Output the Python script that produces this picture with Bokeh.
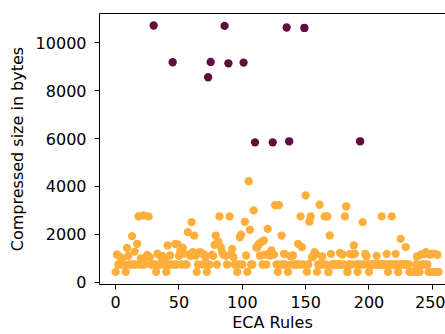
from bokeh.plotting import figure
from bokeh.models import ColumnDataSource, Range1d, LinearAxis, FixedTicker
from bokeh.embed import file_html
from bokeh.resources import INLINE

# ECA rule numbers 0..255
rules = list(range(256))

# Compressed size in bytes for each rule
sizes = [
    430, 1160, 740, 1080, 740, 1000, 740, 740, 430, 1430, 1100, 740, 740, 1925, 740, 1280,
    740, 1600, 2750, 740, 1000, 740, 2790, 740, 1050, 1144, 2750, 1050, 740, 740, 10728, 740,
    430, 1190, 740, 740, 1050, 1100, 740, 1000, 430, 1535, 740, 1120, 740, 9192, 740, 1600,
    740, 1576, 1100, 1300, 740, 1437, 1200, 740, 740, 2090, 1150, 1100, 2510, 1255, 1950, 1100,
    430, 740, 1250, 1250, 1200, 740, 1150, 1050, 430, 8565, 740, 9205, 1150, 1100, 1560, 1950,
    740, 1700, 2750, 1460, 1256, 1150, 10711, 1100, 740, 9150, 2750, 1186, 1395, 1046, 740, 740,
    430, 740, 1880, 1990, 740, 9178, 2525, 1116, 430, 4220, 2190, 740, 740, 3000, 5845, 1450,
    1465, 1600, 1116, 1674, 740, 1745, 1150, 740, 2230, 1200, 1116, 1325, 5845, 1150, 3222, 740,
    430, 3222, 740, 1950, 740, 1186, 740, 10644, 430, 5887, 1100, 740, 1116, 740, 740, 740,
    1605, 740, 2750, 1465, 740, 10628, 3627, 430, 740, 2537, 2750, 1045, 1074, 1255, 1186, 430,
    740, 3237, 740, 1074, 740, 2750, 740, 2750, 430, 1953, 1186, 740, 740, 740, 740, 740,
    740, 1228, 740, 1158, 740, 2750, 3167, 430, 740, 1186, 740, 1160, 1535, 1186, 740, 430,
    740, 5887, 740, 2510, 740, 1186, 1088, 740, 430, 740, 740, 740, 740, 740, 1102, 740,
    740, 740, 2750, 740, 740, 740, 1186, 430, 740, 740, 2750, 740, 740, 1186, 740, 430,
    740, 1813, 740, 740, 740, 1465, 740, 740, 430, 430, 430, 430, 430, 740, 1074, 430,
    430, 1158, 740, 740, 1186, 1255, 740, 430, 1158, 430, 1186, 430, 1186, 430, 1144, 430,
]

# Rules drawn in the dark colour
dark_rules = [30, 45, 73, 75, 86, 89, 101, 110, 124, 135, 137, 149, 193]

x_ticks = [0, 50, 100, 150, 200, 250]
y_ticks = [0, 2000, 4000, 6000, 8000, 10000]

DARK = "#620e3d"
LIGHT = "#fdae3b"
colors = [DARK if r in dark_rules else LIGHT for r in rules]

src = ColumnDataSource(dict(x=rules, y=sizes, c=colors))

p = figure(width=445, height=334, output_backend="svg", toolbar_location=None,
           x_range=Range1d(-12.75, 260.4), y_range=Range1d(-96, 11230),
           min_border_left=99, min_border_right=0, min_border_top=13, min_border_bottom=50)
p.background_fill_color = "white"
p.border_fill_color = "white"
p.outline_line_color = None
p.xgrid.visible = False
p.ygrid.visible = False

p.scatter("x", "y", source=src, size=8.3, fill_color="c", line_color="c", line_width=0)

FONT = "DejaVu Sans"
for ax in (p.xaxis[0], p.yaxis[0]):
    ax.major_tick_out = 5
    ax.major_tick_in = 0
    ax.minor_tick_line_color = None
    ax.major_tick_line_color = "black"
    ax.axis_line_color = "black"
    ax.axis_line_width = 1
    ax.major_label_text_font = FONT
    ax.major_label_text_font_size = "16px"
    ax.major_label_text_color = "black"
    ax.axis_label_text_font = FONT
    ax.axis_label_text_font_size = "16px"
    ax.axis_label_text_font_style = "normal"
    ax.axis_label_text_color = "black"

p.xaxis.ticker = FixedTicker(ticks=x_ticks)
p.yaxis.ticker = FixedTicker(ticks=y_ticks)
p.xaxis.axis_label = "ECA Rules"
p.yaxis.axis_label = "Compressed size in bytes"
p.yaxis.major_label_standoff = 8
p.yaxis.axis_label_standoff = 6
p.xaxis.major_label_standoff = 6
p.xaxis.axis_label_standoff = 2

top = LinearAxis(ticker=FixedTicker(ticks=[]), major_label_text_font_size="0px",
                 major_tick_line_color=None, minor_tick_line_color=None,
                 axis_line_color="black", axis_line_width=1,
                 major_tick_out=0, major_label_standoff=0)
p.add_layout(top, "above")

open("out.html", "w").write(file_html(p, INLINE))
